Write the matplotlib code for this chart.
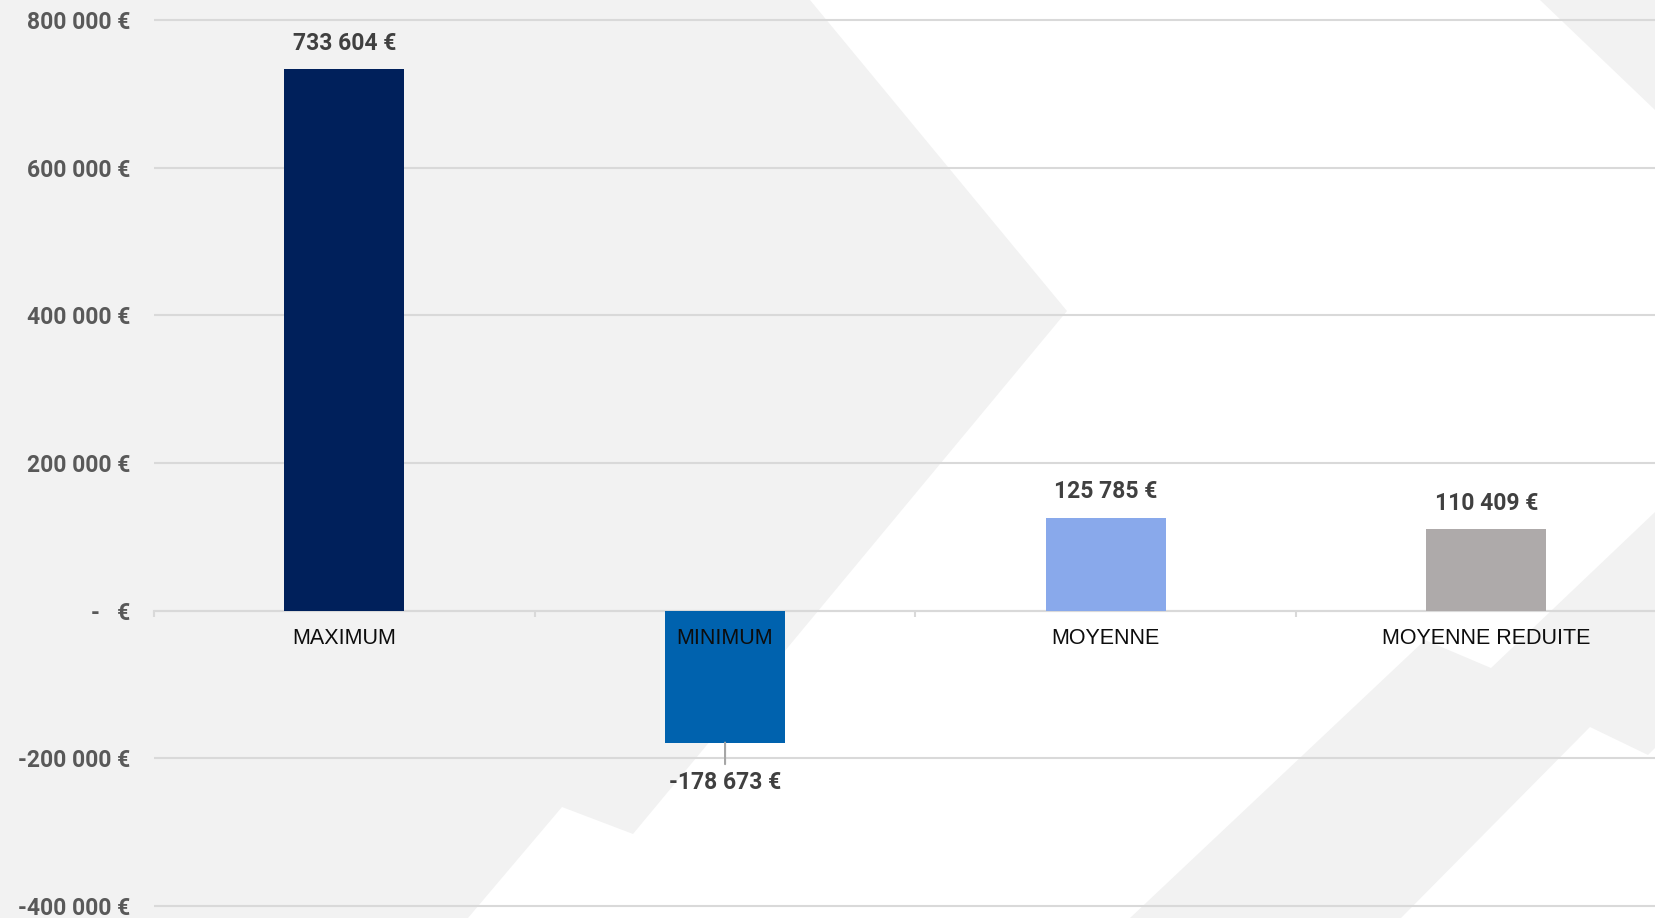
import matplotlib
matplotlib.use("Agg")
import matplotlib.pyplot as plt
from matplotlib.patches import Polygon
from matplotlib.ticker import FixedLocator, FuncFormatter

# data
categories = ["MAXIMUM", "MINIMUM", "MOYENNE", "MOYENNE REDUITE"]
values = [733604, -178673, 125785, 110409]
bar_colors = ["#00205B", "#0062AE", "#89A9EB", "#AEAAAA"]
y_ticks = [-400000, -200000, 0, 200000, 400000, 600000, 800000]

W, H = 1655, 918
BG_GRAY = "#f2f2f2"
GRID = "#d9d9d9"

# background decoration (pixel coords, y pointing down)
white_shapes = [
    [(810, 0), (1540, 0), (1655, 110), (1655, 512), (1491, 668), (1425, 640),
     (1130, 918), (468, 918), (562, 807), (633, 834), (1067, 311)],
    [(1401, 918), (1590, 727), (1648, 755), (1655, 748), (1655, 918)],
]


def euro(v):
    if v == 0:
        return "-   €"
    s = f"{abs(v):,.0f}".replace(",", " ") + " €"
    return "-" + s if v < 0 else s


fig = plt.figure(figsize=(W / 100, H / 100), dpi=100, facecolor=BG_GRAY)

bg = fig.add_axes([0, 0, 1, 1], zorder=0)
bg.set_xlim(0, W)
bg.set_ylim(H, 0)
bg.axis("off")
for pts in white_shapes:
    bg.add_patch(Polygon(pts, closed=True, facecolor="white", edgecolor="none"))

# axes geometry: 154px left, each category 380.7px wide (last one runs off the figure)
ymin, ymax = -420000, 830000
px_per_unit = (906 - 20) / 1200000
top_px = 20 - (ymax - 800000) * px_per_unit
bot_px = 906 + (-400000 - ymin) * px_per_unit
ax = fig.add_axes([154 / W, (H - bot_px) / H, 4 * 380.7 / W, (bot_px - top_px) / H], zorder=1)
ax.patch.set_alpha(0)

x = list(range(len(categories)))
ax.bar(x, values, width=0.315, color=bar_colors, zorder=1.5)
ax.set_xlim(-0.5, len(categories) - 0.5)
ax.set_ylim(ymin, ymax)

ax.yaxis.set_major_locator(FixedLocator(y_ticks))
ax.yaxis.set_major_formatter(FuncFormatter(lambda v, p: euro(v)))
ax.yaxis.grid(True, color=GRID, linewidth=1.5)
ax.set_axisbelow(True)
ax.xaxis.set_zorder(2.5)  # category labels sit on top of the bars

for s in ["top", "right", "left"]:
    ax.spines[s].set_visible(False)
ax.spines["bottom"].set_position(("data", 0))
ax.spines["bottom"].set_color(GRID)
ax.spines["bottom"].set_linewidth(1.5)
ax.spines["bottom"].set_zorder(1.2)

ax.set_xticks(x)
ax.set_xticklabels(categories)
ax.set_xticks([i - 0.5 for i in range(len(categories) + 1)], minor=True)
ax.tick_params(axis="x", which="major", length=0, pad=12.5, labelsize=15.5, labelcolor="#0d0d0d")
ax.tick_params(axis="x", which="minor", length=4.5, width=1.5, color=GRID)
ax.tick_params(axis="y", length=0, pad=17, labelsize=16.5, labelcolor="#595959")
for lab in ax.get_xticklabels():
    lab.set_family(["Liberation Sans", "DejaVu Sans"])
for lab in ax.get_yticklabels():
    lab.set_family(["Roboto", "DejaVu Sans"])
    lab.set_fontweight("bold")

for i, v in enumerate(values):
    if v >= 0:
        ax.annotate(euro(v), xy=(i, v), xytext=(0, 26), textcoords="offset pixels",
                    ha="center", va="center", fontsize=16.5, fontweight="bold",
                    color="#404040", family=["Roboto", "DejaVu Sans"])
    else:
        ax.annotate(euro(v), xy=(i, v), xytext=(0, -40), textcoords="offset pixels",
                    ha="center", va="center", fontsize=16.5, fontweight="bold",
                    color="#404040", family=["Roboto", "DejaVu Sans"],
                    arrowprops=dict(arrowstyle="-", color="#a6a6a6", lw=1.5,
                                    shrinkA=3, shrinkB=0))

fig.savefig("out.png", dpi=100, facecolor=BG_GRAY)
